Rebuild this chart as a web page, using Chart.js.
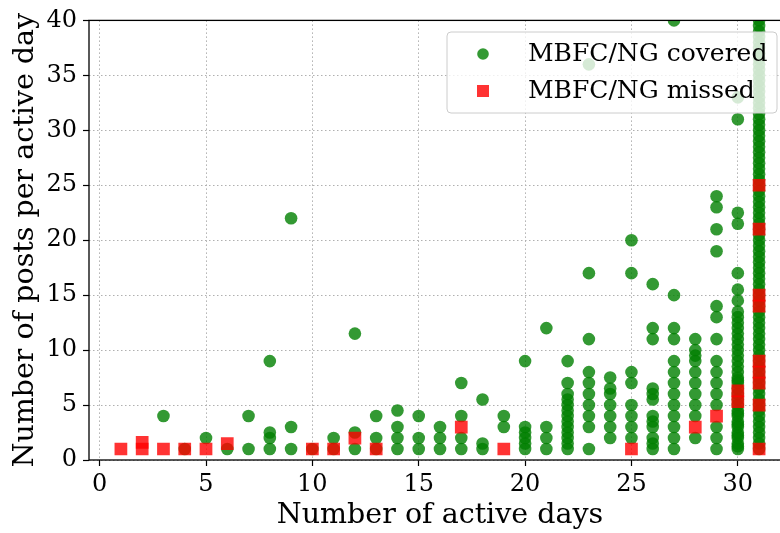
<!DOCTYPE html>
<html>
<head>
<meta charset="utf-8">
<script src="https://cdn.jsdelivr.net/npm/chart.js@4.4.0/dist/chart.umd.min.js"></script>
<style>
  html, body { margin: 0; padding: 0; background: #fff; }
  #wrap { width: 780px; height: 533px; overflow: hidden; }
</style>
</head>
<body>
<div id="wrap"><canvas id="activity-chart" width="800" height="533"></canvas></div>
<script>
// ---------------------- DATA -------------------------
const xTicks = [0, 5, 10, 15, 20, 25, 30];
const yTicks = [0, 5, 10, 15, 20, 25, 30, 35, 40];

// covered accounts: active days -> posts per active day
const coveredDays = [3, 4, 5, 6, 7, 8, 9, 10, 11, 12, 13, 14, 15, 16, 17, 18, 19, 20, 21, 22,
                     23, 24, 25, 26, 27, 28, 29, 30, 31];
const coveredPosts = [
      [4],
      [1],
      [2],
      [1],
      [1, 4],
      [1, 2, 2.5, 9],
      [1, 3, 22],
      [1],
      [1, 2],
      [1, 2.5, 11.5],
      [1, 2, 4],
      [1, 2, 3, 4.5],
      [1, 2, 4],
      [1, 2, 3],
      [1, 2, 4, 7],
      [1, 1.5, 5.5],
      [3, 4],
      [1, 1.5, 2, 2.5, 3, 9],
      [1, 2, 3, 12],
      [1, 1.5, 2, 2.5, 3, 3.5, 4, 4.5, 5, 5.5, 6, 7, 9],
      [1, 3, 4, 5, 6, 7, 8, 11, 17, 36],
      [2, 3, 4, 5, 6, 6.5, 7.5],
      [2, 3, 4, 5, 7, 8, 17, 20],
      [1, 1.5, 2, 3, 3.5, 4, 5.5, 6, 6.5, 11, 12, 16],
      [1, 2, 3, 4, 5, 6, 7, 8, 9, 11, 12, 15, 40],
      [2, 4, 5, 6, 7, 8, 9, 9.5, 10, 11],
      [1, 2, 3, 5, 6, 7, 8, 9, 11, 13, 14, 19, 21, 23, 24],
      [1, 1.25, 1.5, 2, 2.25, 2.5, 3, 3.25, 3.5, 4, 4.25, 4.5, 5, 5.5, 6, 6.5, 7, 7.25, 7.5, 8,
       8.5, 9, 9.5, 10, 10.5, 11, 11.5, 12, 12.5, 13, 13.5, 14.5, 15.5, 17, 21.5, 22.5, 31, 33],
      [1, 1.5, 2, 2.5, 3, 3.5, 4, 4.5, 5, 5.5, 6, 6.5, 7, 7.5, 8, 8.5, 9, 9.5, 10, 10.5,
       11, 11.5, 12, 12.5, 13, 13.5, 14, 14.5, 15, 15.5, 16, 16.5, 17, 17.5, 18, 18.5, 19, 19.5, 20, 20.5,
       21, 21.5, 22, 22.5, 23, 23.5, 24, 24.5, 25, 25.5, 26, 26.5, 27, 27.5, 28, 28.5, 29, 29.5, 30, 30.5,
       31, 31.5, 32, 32.5, 33, 33.5, 34, 34.5, 35, 35.5, 36, 36.5, 37, 37.5, 38, 38.5, 39, 39.5, 40]
];

// missed accounts
const missedDays = [1, 2, 3, 4, 5, 6, 10, 11, 12, 13, 17, 19, 25, 28, 29, 30, 31];
const missedPosts = [
      [1],
      [1, 1.6],
      [1],
      [1],
      [1],
      [1.5],
      [1],
      [1],
      [2],
      [1],
      [3],
      [1],
      [1],
      [3],
      [4],
      [5.3, 6.3],
      [1, 5, 7, 8, 9, 14, 15, 21, 25]
];

const seriesLabels = ['MBFC/NG covered', 'MBFC/NG missed'];

// ---------------------- HELPERS -------------------------
const FONT = '"DejaVu Serif", serif';
Chart.defaults.font.family = FONT;
Chart.defaults.color = '#000';

function toPoints(days, posts) {
      return days.flatMap((d, i) => posts[i].map(v => ({ x: d, y: v })));
}

// legend box drawn inside the plot, matplotlib style
const innerLegend = {
      id: 'innerLegend',
      afterDatasetsDraw(chart) {
            const ctx = chart.ctx;
            const x = 447, y = 32, w = 330, h = 81;
            ctx.save();
            ctx.beginPath();
            ctx.roundRect(x, y, w, h, 4);
            ctx.fillStyle = 'rgba(255,255,255,0.8)';
            ctx.fill();
            ctx.strokeStyle = '#cccccc';
            ctx.lineWidth = 1;
            ctx.stroke();

            // markers
            ctx.fillStyle = chart.data.datasets[0].backgroundColor;
            ctx.beginPath();
            ctx.arc(483, 54, 5.8, 0, Math.PI * 2);
            ctx.fill();
            ctx.fillStyle = chart.data.datasets[1].backgroundColor;
            ctx.fillRect(477, 85, 12, 12);

            ctx.fillStyle = '#000';
            ctx.font = '25px ' + FONT;
            ctx.textBaseline = 'alphabetic';
            ctx.fillText(chart.data.datasets[0].label, 528, 61);
            ctx.fillText(chart.data.datasets[1].label, 528, 98);
            ctx.restore();
      }
};

// axes frame (spines)
const frame = {
      id: 'frame',
      afterDraw(chart) {
            const { ctx, chartArea: a } = chart;
            ctx.save();
            ctx.strokeStyle = '#000';
            ctx.lineWidth = 1.3;
            ctx.strokeRect(a.left, a.top, a.right - a.left, a.bottom - a.top);
            ctx.restore();
      }
};

// ---------------------- CHART -------------------------
const ctx = document.getElementById('activity-chart').getContext('2d');

const gridStyle = {
      color: '#b0b0b0',
      lineWidth: 1,
      tickColor: '#000',
      tickLength: 6,
      tickWidth: 1.2,
      tickBorderDash: []
};

const activityChart = new Chart(ctx, {
      type: 'scatter',
      data: {
            datasets: [
            {
                  label: seriesLabels[0],
                  data: toPoints(coveredDays, coveredPosts),
                  backgroundColor: 'rgba(0, 128, 0, 0.8)',
                  borderWidth: 0,
                  pointStyle: 'circle',
                  pointRadius: 6.3,
                  clip: 0,
                  order: 1
            },
            {
                  label: seriesLabels[1],
                  data: toPoints(missedDays, missedPosts),
                  backgroundColor: 'rgba(255, 0, 0, 0.8)',
                  borderWidth: 0,
                  pointStyle: 'rect',
                  pointRadius: 9,
                  clip: 0,
                  order: 0
            }
            ]
      },
      options: {
            responsive: false,
            animation: false,
            events: [],
            layout: { padding: { top: 20, right: 7, left: 0, bottom: 0 } },
            plugins: {
                  legend: { display: false },
                  tooltip: { enabled: false }
            },
            scales: {
                  x: {
                        type: 'linear',
                        min: -0.5,
                        max: 32.5,
                        afterFit: (scale) => { scale.height = 73; },
                        afterBuildTicks: (scale) => { scale.ticks = xTicks.map(v => ({ value: v })); },
                        ticks: { font: { size: 24 }, padding: 4, maxRotation: 0 },
                        grid: gridStyle,
                        border: { display: false, dash: [1.5, 2.5] },
                        title: { display: true, text: 'Number of active days', font: { size: 28.5 }, padding: { top: 0, bottom: 0 } }
                  },
                  y: {
                        min: 0,
                        max: 40,
                        afterFit: (scale) => { scale.width = 89; },
                        afterBuildTicks: (scale) => { scale.ticks = yTicks.map(v => ({ value: v })); },
                        ticks: { font: { size: 24 }, padding: 6 },
                        grid: gridStyle,
                        border: { display: false, dash: [1.5, 2.5] },
                        title: { display: true, text: 'Number of posts per active day', font: { size: 28.5 }, padding: { top: 8, bottom: 0 } }
                  }
            }
      },
      plugins: [innerLegend, frame]
});
</script>
</body>
</html>
